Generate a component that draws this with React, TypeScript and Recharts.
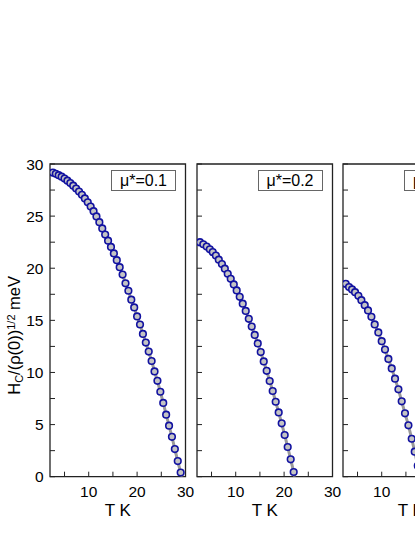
import React from 'react';
import { ComposedChart, XAxis, YAxis, Line, Scatter, ReferenceArea } from 'recharts';

const FONT = '"Liberation Sans", Arial, Helvetica, sans-serif';

// axis ticks
const xTicks = [5, 10, 15, 20, 25, 30];
const xTickLabels = [10, 20, 30];
const yTicks = [0, 2.5, 5, 7.5, 10, 12.5, 15, 17.5, 20, 22.5, 25, 27.5, 30];
const yTickLabels = [0, 5, 10, 15, 20, 25, 30];

// panel 1: mu* = 0.1
const t1 = [2.6, 3.2, 3.8, 4.4, 5.0, 5.6, 6.2, 6.8, 7.4, 8.0, 8.6, 9.2, 9.8, 10.4, 11.0, 11.6, 12.2, 12.8, 13.4, 14.0, 14.6, 15.2, 15.8, 16.4, 17.0, 17.6, 18.2, 18.8, 19.4, 20.0, 20.6, 21.2, 21.8, 22.4, 23.0, 23.6, 24.2, 24.8, 25.4, 26.0, 26.6, 27.2, 27.8, 28.4, 29.0];
const h1 = [29.18, 29.06, 28.93, 28.78, 28.6, 28.4, 28.17, 27.92, 27.65, 27.35, 27.05, 26.7, 26.33, 25.92, 25.47, 24.97, 24.42, 23.82, 23.23, 22.64, 22.04, 21.42, 20.77, 20.1, 19.39, 18.55, 17.84, 16.98, 16.24, 15.38, 14.6, 13.7, 12.87, 12.0, 11.1, 10.1, 9.2, 8.15, 7.08, 5.95, 4.9, 3.83, 2.65, 1.5, 0.4];
const tc1 = 29.3;

// panel 2: mu* = 0.2
const t2 = [2.6, 3.3, 4.0, 4.65, 5.25, 5.9, 6.5, 7.15, 7.75, 8.35, 8.97, 9.6, 10.2, 10.83, 11.45, 12.07, 12.7, 13.31, 13.93, 14.55, 15.17, 15.79, 16.4, 17.02, 17.64, 18.26, 18.88, 19.5, 20.12, 20.74, 21.36, 21.98];
const h2 = [22.5, 22.3, 22.08, 21.82, 21.55, 21.22, 20.82, 20.4, 19.96, 19.47, 18.98, 18.45, 17.87, 17.26, 16.6, 15.9, 15.15, 14.4, 13.6, 12.79, 11.96, 11.06, 10.16, 9.18, 8.22, 7.19, 6.17, 5.12, 4.0, 2.85, 1.67, 0.45];
const tc2 = 22.2;

// panel 3: mu* = 0.3
const t3 = [2.56, 3.25, 3.87, 4.49, 5.18, 5.8, 6.49, 7.17, 7.87, 8.55, 9.3, 10.0, 10.68, 11.38, 12.07, 12.75, 13.45, 14.13, 14.81, 15.52, 16.2, 16.82, 17.45];
const h3 = [18.5, 18.2, 17.97, 17.7, 17.35, 16.94, 16.46, 15.95, 15.34, 14.61, 13.84, 13.0, 12.2, 11.3, 10.39, 9.4, 8.38, 7.23, 6.08, 4.93, 3.64, 2.4, 1.05];
const tc3 = 18.0;

const muLabels = ['\u03BC*=0.1', '\u03BC*=0.2', '\u03BC*=0.3'];

const toPoints = (ts: number[], hs: number[]) => ts.map((T, i) => ({ T, v: hs[i] }));

function YLabel(props: any) {
  const vb = props.viewBox || { x: 0, y: 0, width: 0, height: 0 };
  const x = vb.x + 20;
  const y = vb.y + vb.height / 2 + 15;
  return (
    <text transform={`translate(${x},${y}) rotate(-90)`} textAnchor="middle" fontFamily={FONT} fontSize={16.5} fill="#000">
      <tspan>H</tspan>
      <tspan fontSize={11} dy={2.5}>C</tspan>
      <tspan dy={-2.5}>/(ρ(0))</tspan>
      <tspan fontSize={11} dy={-5}>1/2</tspan>
      <tspan dy={5}>{'\u00A0meV'}</tspan>
    </text>
  );
}

function XLabel(props: any) {
  const vb = props.viewBox || { x: 0, y: 0, width: 0, height: 0 };
  return (
    <text x={vb.x + vb.width / 2} y={vb.y + 39} textAnchor="middle" fontFamily={FONT} fontSize={17} fill="#000">
      T K
    </text>
  );
}

const Dot = (p: any) => (
  <circle cx={p.cx} cy={p.cy} r={3.3} fill="#c4c4c4" stroke="#1212a0" strokeWidth={1.6} />
);

type PanelProps = { ts: number[]; hs: number[]; tc: number; label: string; showY: boolean; left: number };

function Panel({ ts, hs, tc, label, showY, left }: PanelProps) {
  const pts = toPoints(ts, hs);
  const lineData = [...pts, { T: tc, v: 0 }];
  return (
    <div style={{ position: 'absolute', left, top: 0, width: 200.5, height: 537 }}>
      <ComposedChart width={200.5} height={537} margin={{ top: 164, right: 15, bottom: 30.3, left: 0 }}>
        <XAxis
          type="number"
          dataKey="T"
          domain={[2, 30]}
          ticks={xTicks}
          interval={0}
          allowDataOverflow
          tickFormatter={(v: number) => (xTickLabels.includes(v) ? String(v) : '')}
          tickSize={-5}
          tickMargin={14}
          axisLine={false}
          tickLine={{ stroke: '#222', strokeWidth: 1 }}
          tick={{ fontSize: 15.5, fill: '#000', fontFamily: FONT }}
          height={30}
          label={<XLabel />}
        />
        <YAxis
          type="number"
          domain={[0, 30]}
          ticks={yTicks}
          interval={0}
          allowDataOverflow
          tickFormatter={(v: number) => (showY && yTickLabels.includes(v) ? String(v) : '')}
          tickSize={-5}
          tickMargin={11.5}
          axisLine={false}
          tickLine={{ stroke: '#222', strokeWidth: 1 }}
          tick={{ fontSize: 15.5, fill: '#000', fontFamily: FONT }}
          width={50}
          label={showY ? <YLabel /> : undefined}
        />
        <ReferenceArea x1={2} x2={30} y1={0} y2={30} fill="none" stroke="#222" strokeWidth={1.3} />
        <Line data={lineData} dataKey="v" type="linear" stroke="#9a9a9a" strokeWidth={3} dot={false} isAnimationActive={false} />
        <Scatter data={pts} dataKey="v" shape={Dot} isAnimationActive={false} />
      </ComposedChart>
      <div
        style={{
          position: 'absolute',
          left: 111,
          top: 170,
          width: 63,
          height: 19,
          border: '1px solid #666',
          background: '#fff',
          fontFamily: FONT,
          fontSize: 16,
          lineHeight: '19px',
          textAlign: 'center',
          color: '#000',
        }}
      >
        {label}
      </div>
    </div>
  );
}

export default function App() {
  return (
    <div style={{ position: 'absolute', left: 0, top: 0, width: 415, height: 537, overflow: 'hidden', background: '#fff' }}>
      <Panel ts={t1} hs={h1} tc={tc1} label={muLabels[0]} showY={true} left={0} />
      <Panel ts={t2} hs={h2} tc={tc2} label={muLabels[1]} showY={false} left={146.5} />
      <Panel ts={t3} hs={h3} tc={tc3} label={muLabels[2]} showY={false} left={293} />
    </div>
  );
}
